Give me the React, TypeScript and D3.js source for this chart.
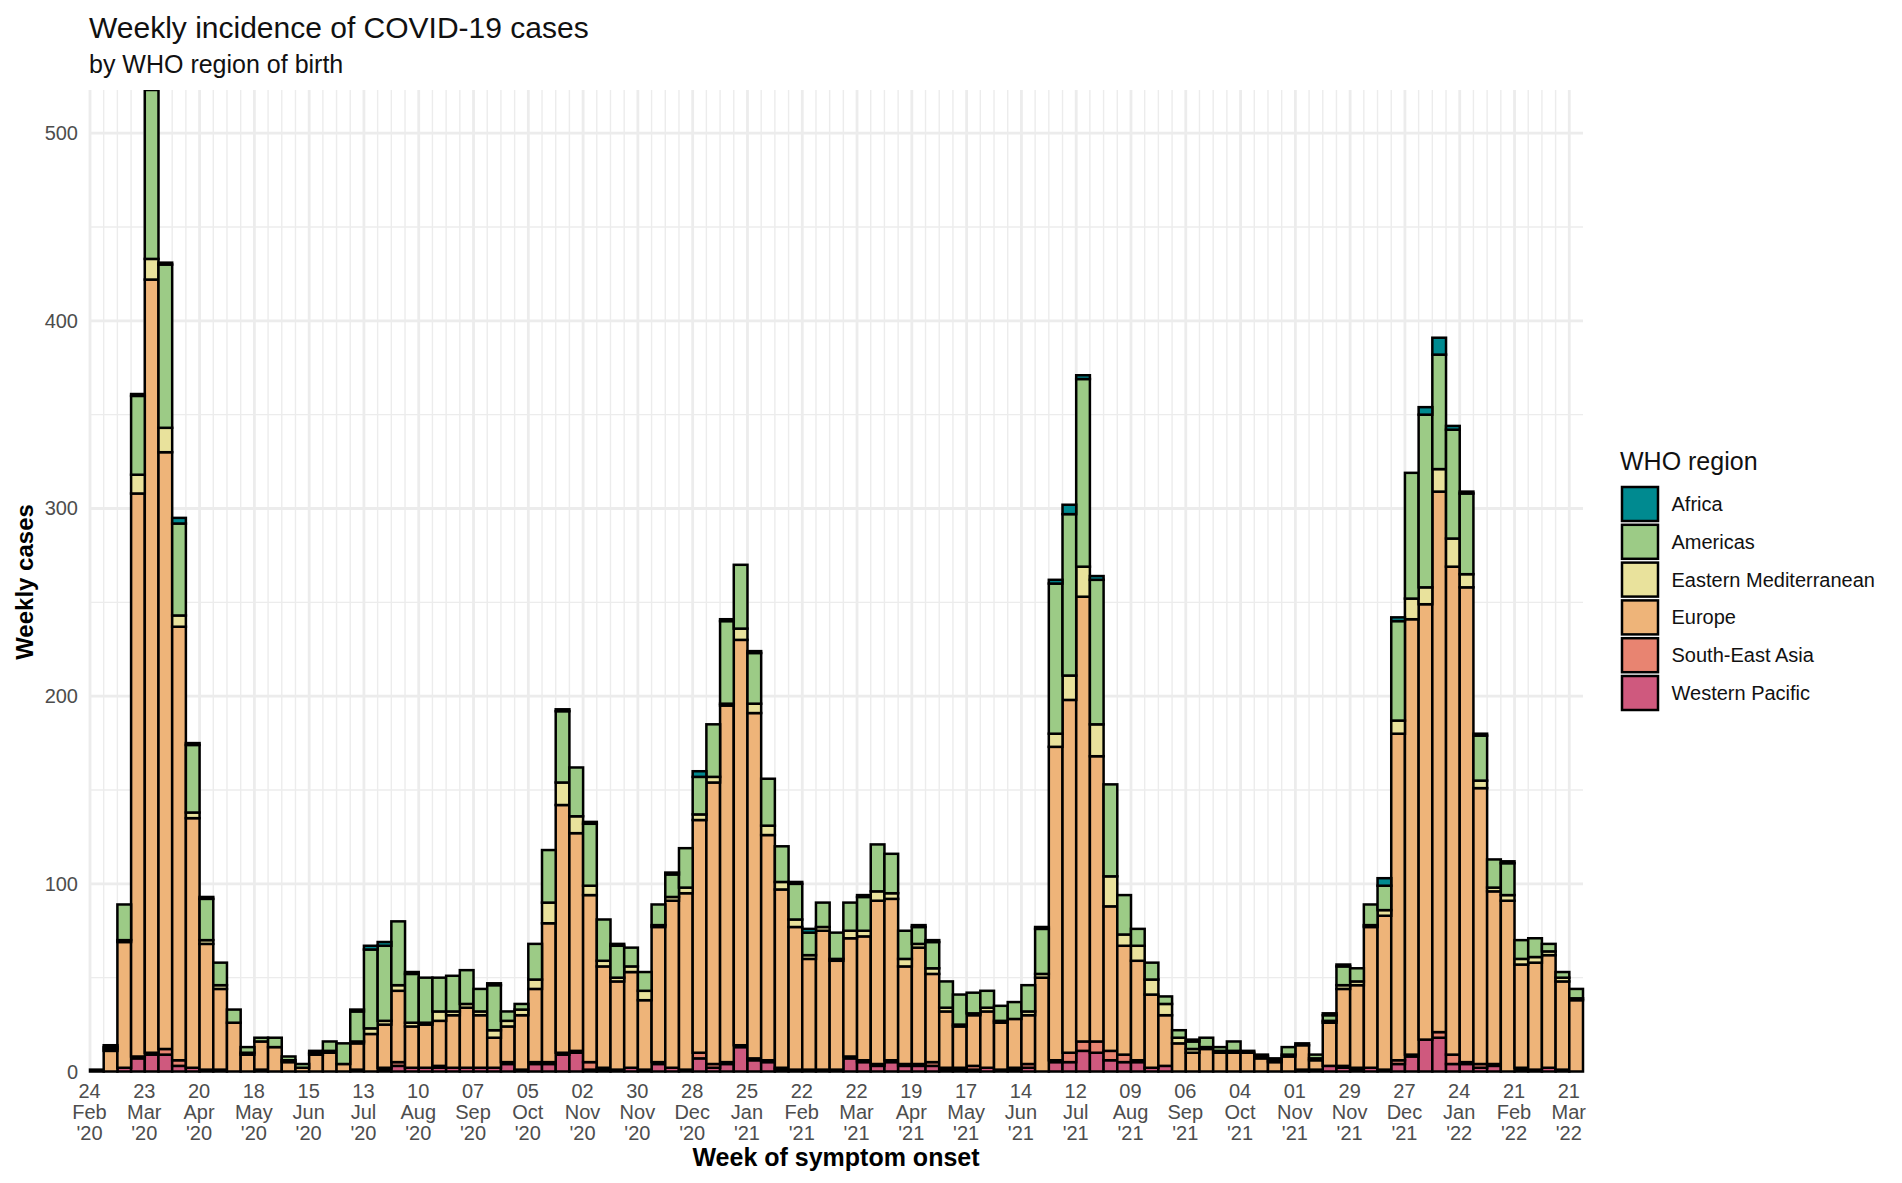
import React, { useEffect, useRef } from "react";
import * as d3 from "d3";

const regions = ["Africa", "Americas", "Eastern Mediterranean", "Europe", "South-East Asia", "Western Pacific"];
const colors = ["#008a90", "#9ccb86", "#e9e29c", "#eeb479", "#e88471", "#cf597e"];

// cases per week, first bar is the week of 24 Feb 2020
const africa = [
  0, 1, 0, 1, 0, 1, 3, 1, 1, 0,
  0, 0, 0, 0, 0, 0, 0, 0, 0, 1,
  2, 2, 0, 1, 0, 0, 0, 0, 0, 1,
  0, 0, 0, 0, 1, 0, 1, 0, 1, 0,
  0, 0, 1, 0, 3, 0, 1, 0, 1, 0,
  0, 1, 2, 0, 0, 0, 1, 0, 0, 0,
  1, 1, 0, 0, 0, 0, 0, 0, 0, 1,
  2, 5, 2, 2, 0, 0, 0, 0, 0, 0,
  1, 0, 0, 0, 0, 0, 1, 0, 0, 0,
  1, 1, 0, 0, 4, 2, 0, 4, 9, 2,
  1, 1, 0, 1, 0, 0, 0, 0, 0,
];
const americas = [
  0, 1, 19, 42, 90, 87, 49, 36, 22, 12,
  7, 3, 2, 5, 2, 2, 1, 5, 11, 16,
  42, 40, 34, 26, 24, 18, 19, 18, 12, 24,
  5, 3, 19, 28, 38, 26, 33, 22, 17, 10,
  10, 11, 12, 21, 20, 28, 44, 34, 27, 25,
  19, 19, 12, 13, 14, 15, 18, 25, 21, 15,
  9, 14, 14, 16, 11, 9, 8, 9, 14, 24,
  80, 86, 100, 77, 49, 21, 9, 9, 4, 4,
  4, 5, 2, 5, 1, 1, 1, 4, 1, 2,
  3, 10, 7, 11, 13, 53, 67, 92, 61, 58,
  43, 24, 15, 17, 10, 10, 4, 3, 5,
];
const easternMed = [
  0, 1, 1, 10, 11, 13, 6, 3, 2, 2,
  0, 1, 0, 0, 1, 0, 1, 1, 0, 1,
  3, 2, 3, 2, 1, 5, 2, 2, 2, 4,
  3, 3, 5, 11, 12, 9, 5, 3, 2, 3,
  5, 1, 2, 3, 3, 3, 1, 6, 5, 5,
  4, 4, 2, 2, 1, 4, 3, 5, 3, 4,
  2, 3, 2, 1, 1, 2, 1, 0, 2, 2,
  7, 13, 16, 17, 16, 6, 8, 8, 6, 3,
  2, 1, 1, 1, 0, 1, 0, 1, 0, 1,
  1, 2, 2, 1, 3, 7, 11, 9, 12, 15,
  7, 4, 2, 3, 3, 3, 2, 2, 1,
];
const europe = [
  1, 11, 67, 300, 412, 318, 231, 133, 67, 43,
  26, 9, 15, 13, 5, 2, 9, 10, 4, 14,
  20, 23, 38, 22, 23, 24, 28, 32, 28, 16,
  19, 29, 39, 74, 132, 116, 89, 54, 47, 51,
  37, 72, 89, 94, 124, 150, 190, 216, 184, 120,
  95, 76, 59, 74, 58, 63, 66, 87, 86, 52,
  62, 47, 30, 22, 27, 30, 25, 26, 26, 50,
  167, 188, 237, 152, 77, 58, 53, 39, 27, 15,
  10, 12, 10, 10, 10, 7, 5, 8, 13, 5,
  23, 41, 44, 75, 82, 174, 232, 232, 288, 260,
  253, 147, 92, 91, 55, 57, 60, 47, 38,
];
const seAsia = [
  0, 0, 0, 1, 1, 3, 3, 0, 0, 0,
  0, 0, 0, 0, 0, 0, 0, 0, 0, 0,
  0, 1, 2, 0, 0, 1, 0, 0, 0, 0,
  1, 0, 1, 1, 1, 1, 4, 1, 0, 0,
  0, 1, 0, 0, 3, 2, 1, 1, 1, 1,
  1, 0, 0, 0, 0, 1, 1, 1, 1, 1,
  1, 2, 1, 1, 2, 0, 0, 1, 2, 0,
  1, 5, 5, 6, 5, 4, 1, 0, 0, 0,
  0, 0, 0, 0, 0, 0, 0, 0, 0, 0,
  0, 1, 1, 0, 0, 2, 1, 0, 3, 5,
  1, 2, 1, 0, 1, 0, 0, 0, 0,
];
const westPacific = [
  0, 0, 2, 7, 9, 9, 3, 2, 1, 1,
  0, 0, 1, 0, 0, 0, 0, 0, 0, 1,
  0, 1, 3, 2, 2, 2, 2, 2, 2, 2,
  4, 1, 4, 4, 9, 10, 1, 1, 1, 2,
  1, 4, 2, 1, 7, 2, 4, 13, 6, 5,
  1, 1, 1, 1, 1, 7, 5, 3, 5, 3,
  3, 3, 1, 1, 1, 2, 1, 1, 2, 0,
  5, 5, 11, 10, 6, 5, 5, 2, 3, 0,
  0, 0, 0, 0, 0, 0, 0, 0, 1, 1,
  3, 2, 1, 2, 1, 4, 8, 17, 18, 4,
  4, 2, 3, 0, 1, 1, 2, 1, 0,
];
const seriesValues = [africa, americas, easternMed, europe, seAsia, westPacific];

const tickLabels = [
  ["24", "Feb", "'20"], ["23", "Mar", "'20"], ["20", "Apr", "'20"], ["18", "May", "'20"],
  ["15", "Jun", "'20"], ["13", "Jul", "'20"], ["10", "Aug", "'20"], ["07", "Sep", "'20"],
  ["05", "Oct", "'20"], ["02", "Nov", "'20"], ["30", "Nov", "'20"], ["28", "Dec", "'20"],
  ["25", "Jan", "'21"], ["22", "Feb", "'21"], ["22", "Mar", "'21"], ["19", "Apr", "'21"],
  ["17", "May", "'21"], ["14", "Jun", "'21"], ["12", "Jul", "'21"], ["09", "Aug", "'21"],
  ["06", "Sep", "'21"], ["04", "Oct", "'21"], ["01", "Nov", "'21"], ["29", "Nov", "'21"],
  ["27", "Dec", "'21"], ["24", "Jan", "'22"], ["21", "Feb", "'22"], ["21", "Mar", "'22"],
];
const yTicks = [0, 100, 200, 300, 400, 500];
const yMinor = [50, 150, 250, 350, 450];

const font = "'Liberation Sans', Arial, sans-serif";

export default function App() {
  const svgRef = useRef(null);

  useEffect(() => {
    const panel = { left: 90, right: 1583, top: 90, bottom: 1071.5 };
    const svg = d3.select(svgRef.current);
    svg.selectAll("*").remove();

    const weeks = d3.utcMonday.range(new Date(Date.UTC(2020, 1, 24)), new Date(Date.UTC(2022, 2, 22)));
    const rows = weeks.map((w, i) => {
      const row = { week: w };
      regions.forEach((r, k) => (row[r] = seriesValues[k][i]));
      return row;
    });

    const xScale = d3.scaleUtc()
      .domain([weeks[0], d3.utcMonday.offset(weeks[weeks.length - 1], 1)])
      .range([panel.left, panel.right]);
    const yScale = d3.scaleLinear().domain([0, 523]).range([panel.bottom, panel.top]);

    // Grid lines: one per week, heavier every fourth week
    const grid = svg.append("g").attr("stroke", "#ececec").attr("fill", "none");
    weeks.forEach((w, i) => {
      grid.append("line")
        .attr("x1", xScale(w)).attr("x2", xScale(w))
        .attr("y1", panel.top).attr("y2", panel.bottom)
        .attr("stroke-width", i % 4 === 0 ? 2.8 : 1.4);
    });
    yTicks.forEach((v) => {
      grid.append("line")
        .attr("x1", panel.left).attr("x2", panel.right)
        .attr("y1", yScale(v)).attr("y2", yScale(v))
        .attr("stroke-width", 2.8);
    });
    yMinor.forEach((v) => {
      grid.append("line")
        .attr("x1", panel.left).attr("x2", panel.right)
        .attr("y1", yScale(v)).attr("y2", yScale(v))
        .attr("stroke-width", 1.4);
    });

    svg.append("clipPath").attr("id", "panel-clip")
      .append("rect")
      .attr("x", panel.left - 2).attr("y", panel.top)
      .attr("width", panel.right - panel.left + 4)
      .attr("height", panel.bottom - panel.top + 2);

    // Stacked bars, Western Pacific at the bottom and Africa on top
    const stacked = d3.stack().keys([...regions].reverse())(rows);
    const bars = svg.append("g").attr("clip-path", "url(#panel-clip)");
    stacked.forEach((layer) => {
      const color = colors[regions.indexOf(layer.key)];
      bars.append("g")
        .selectAll("rect")
        .data(layer.filter((d) => d[1] > d[0]))
        .join("rect")
        .attr("x", (d) => xScale(d.data.week))
        .attr("width", (d) => xScale(d3.utcMonday.offset(d.data.week, 1)) - xScale(d.data.week))
        .attr("y", (d) => yScale(d[1]))
        .attr("height", (d) => yScale(d[0]) - yScale(d[1]))
        .attr("fill", color)
        .attr("stroke", "#000")
        .attr("stroke-width", 2.5);
    });

    // Y axis labels
    svg.append("g").selectAll("text").data(yTicks).join("text")
      .attr("x", 78)
      .attr("y", (d) => yScale(d) + 7)
      .attr("text-anchor", "end")
      .attr("font-size", 20)
      .attr("fill", "#4d4d4d")
      .text((d) => d);

    // X axis labels, three lines each
    const labelGroup = svg.append("g")
      .attr("font-size", 20)
      .attr("fill", "#4d4d4d")
      .attr("text-anchor", "middle");
    tickLabels.forEach((lines, i) => {
      const text = labelGroup.append("text");
      lines.forEach((line, k) => {
        text.append("tspan")
          .attr("x", xScale(weeks[i * 4]) - 0.5)
          .attr("y", 1098 + k * 21)
          .text(line);
      });
    });

    // Titles
    svg.append("text").attr("x", 89).attr("y", 38)
      .attr("font-size", 30).attr("fill", "#111")
      .text("Weekly incidence of COVID-19 cases");
    svg.append("text").attr("x", 89).attr("y", 73)
      .attr("font-size", 25).attr("fill", "#111")
      .text("by WHO region of birth");
    svg.append("text").attr("x", 836).attr("y", 1165.5)
      .attr("text-anchor", "middle")
      .attr("font-size", 25).attr("font-weight", "bold").attr("fill", "#000")
      .text("Week of symptom onset");
    svg.append("text")
      .attr("transform", "translate(33,582) rotate(-90)")
      .attr("text-anchor", "middle")
      .attr("font-size", 24).attr("font-weight", "bold").attr("fill", "#000")
      .text("Weekly cases");

    // Legend
    const legend = svg.append("g");
    legend.append("text").attr("x", 1620).attr("y", 470)
      .attr("font-size", 25).attr("fill", "#111")
      .text("WHO region");
    regions.forEach((r, i) => {
      const y = 487 + i * 37.8;
      legend.append("rect")
        .attr("x", 1622).attr("y", y)
        .attr("width", 36).attr("height", 34)
        .attr("fill", colors[i])
        .attr("stroke", "#000").attr("stroke-width", 2.5);
      legend.append("text")
        .attr("x", 1671.5).attr("y", y + 24)
        .attr("font-size", 20).attr("fill", "#111")
        .text(r);
    });
  }, []);

  return (
    <svg
      ref={svgRef}
      width={1902}
      height={1183}
      style={{ position: "absolute", left: 0, top: 0, fontFamily: font, background: "#fff" }}
    ></svg>
  );
}
